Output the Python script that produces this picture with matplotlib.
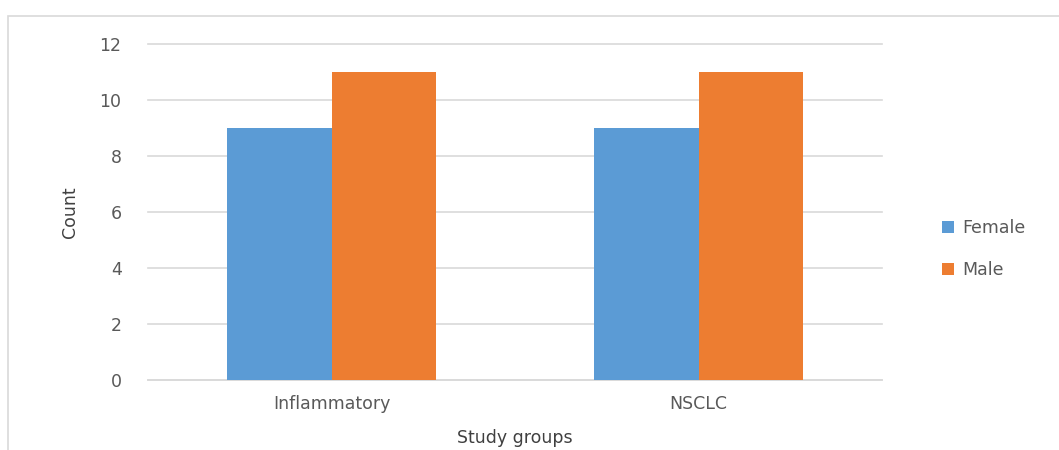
import numpy as np
import matplotlib
matplotlib.use("Agg")
import matplotlib.pyplot as plt
from matplotlib.patches import Rectangle

# 数据
groups = ["Inflammatory", "NSCLC"]
female = [9, 9]
male = [11, 11]
yticks = [0, 2, 4, 6, 8, 10, 12]

plt.rcParams["font.family"] = ["DejaVu Sans"]

fig = plt.figure(figsize=(10.59, 4.5), dpi=100)
ax = fig.add_axes([148 / 1059, 70 / 450, 734 / 1059, 336 / 450])

# 外框
fig.patches.append(Rectangle((8 / 1059, -0.1), 1.2, (450 - 16) / 450 + 0.1,
                             transform=fig.transFigure, fill=False,
                             edgecolor="#d9d9d9", linewidth=1.2))

x = np.arange(len(groups))
w = 0.286
ax.bar(x - w / 2, female, width=w, color="#5B9BD5", label="Female", zorder=3)
ax.bar(x + w / 2, male, width=w, color="#ED7D31", label="Male", zorder=3)

ax.set_xlim(-0.5, 1.5)
ax.set_ylim(0, 12)
ax.set_yticks(yticks)
ax.set_xticks(x)
ax.set_xticklabels(groups)
ax.grid(axis="y", color="#d9d9d9", linewidth=1.2, zorder=0)
for line in ax.get_ygridlines():
    line.set_clip_on(False)
for s in ["top", "right", "left"]:
    ax.spines[s].set_visible(False)
ax.spines["bottom"].set_color("#d9d9d9")
ax.spines["bottom"].set_linewidth(1.2)
ax.tick_params(length=0, colors="#595959", labelsize=12.5)
ax.tick_params(axis="y", pad=19)
ax.tick_params(axis="x", pad=11)

ax.set_ylabel("Count", fontsize=12.5, color="#404040")
ax.yaxis.set_label_coords((79 - 148) / 734, 0.5)
ax.set_xlabel("Study groups", fontsize=12.5, color="#404040")
ax.xaxis.set_label_coords(0.5, -(429 - 380) / 336)

ax.legend(loc="center left", bbox_to_anchor=(1.06, 0.39), frameon=False,
          fontsize=12.5, labelcolor="#595959", handlelength=0.7, handleheight=0.7,
          labelspacing=1.35, handletextpad=0.5)

fig.savefig("out.png", dpi=100)
